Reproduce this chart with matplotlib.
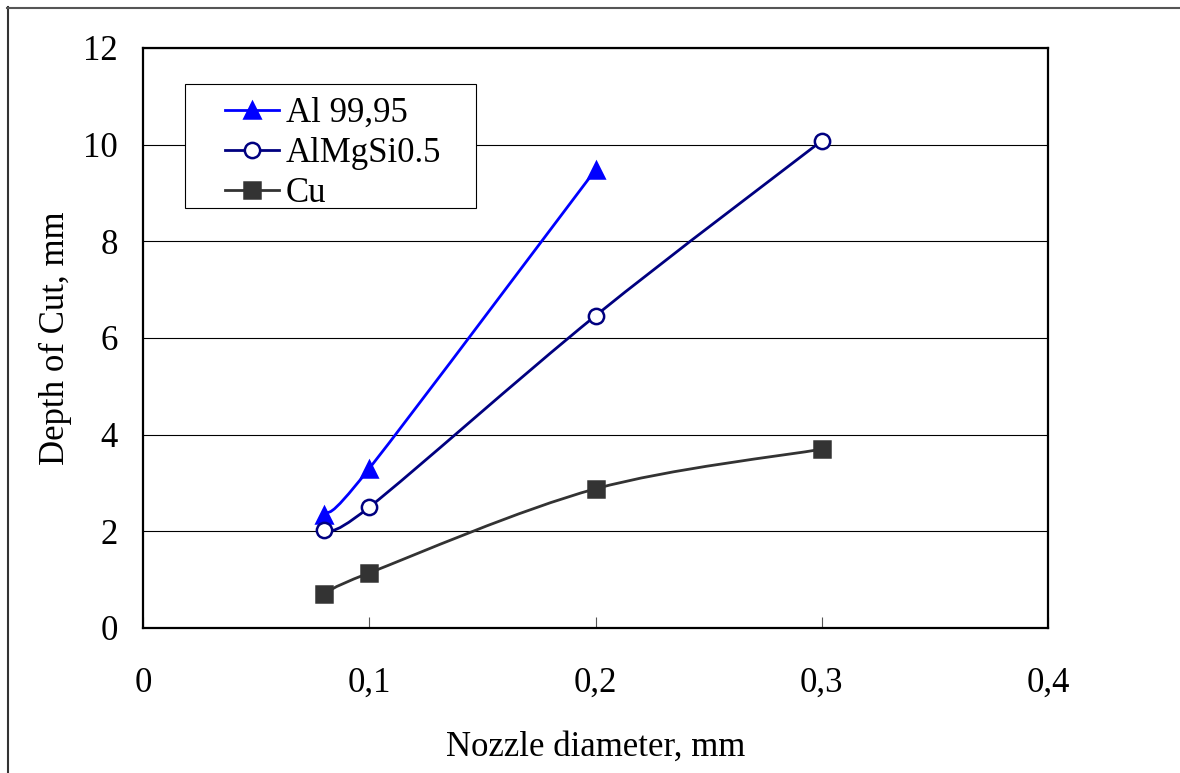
import matplotlib
matplotlib.use("Agg")
import matplotlib.pyplot as plt
from matplotlib.lines import Line2D
from matplotlib.path import Path
from matplotlib.patches import PathPatch, Rectangle

plt.rcParams["font.family"] = ["Liberation Serif", "DejaVu Serif"]

# data
x_al = [0.08, 0.1, 0.2]
y_al = [2.34, 3.30, 9.48]
x_almg = [0.08, 0.1, 0.2, 0.3]
y_almg = [2.03, 2.50, 6.46, 10.08]
x_cu = [0.08, 0.1, 0.2, 0.3]
y_cu = [0.70, 1.14, 2.88, 3.70]

x_ticks = [0, 0.1, 0.2, 0.3, 0.4]
x_ticklabels = ["0", "0,1", "0,2", "0,3", "0,4"]
y_ticks = [0, 2, 4, 6, 8, 10, 12]


def smooth_path(xs, ys):
    # Excel-like smoothed line: Catmull-Rom through the points as cubic Beziers
    pts = list(zip(xs, ys))
    verts = [pts[0]]
    codes = [Path.MOVETO]
    n = len(pts)
    for i in range(n - 1):
        p0 = pts[max(i - 1, 0)]
        p1 = pts[i]
        p2 = pts[i + 1]
        p3 = pts[min(i + 2, n - 1)]
        c1 = (p1[0] + (p2[0] - p0[0]) / 6, p1[1] + (p2[1] - p0[1]) / 6)
        c2 = (p2[0] - (p3[0] - p1[0]) / 6, p2[1] - (p3[1] - p1[1]) / 6)
        verts += [c1, c2, p2]
        codes += [Path.CURVE4] * 3
    return Path(verts, codes)


fig = plt.figure(figsize=(11.8, 7.73), dpi=100)
ax = fig.add_axes([143 / 1180, 1 - 628 / 773, 905 / 1180, 580 / 773])

LW = 2.0
series = [
    (x_al, y_al, "#0000FF", "^", 12, "#0000FF", "Al 99,95"),
    (x_almg, y_almg, "#000080", "o", 11, "white", "AlMgSi0.5"),
    (x_cu, y_cu, "#333333", "s", 11, "#333333", "Cu"),
]
handles = []
for xs, ys, col, mk, ms, mfc, lab in series:
    ax.add_patch(PathPatch(smooth_path(xs, ys), facecolor="none", edgecolor=col,
                           lw=LW, zorder=3))
    ax.plot(xs, ys, linestyle="none", marker=mk, markersize=ms, markerfacecolor=mfc,
            markeredgecolor=col, markeredgewidth=1.8, zorder=4)
    handles.append(Line2D([], [], color=col, lw=LW, marker=mk, markersize=ms,
                          markerfacecolor=mfc, markeredgecolor=col, markeredgewidth=1.8))

ax.set_xlim(0, 0.4)
ax.set_ylim(0, 12)
ax.set_xticks(x_ticks)
ax.set_xticklabels(x_ticklabels)
ax.set_yticks(y_ticks)
ax.yaxis.grid(True, color="black", lw=0.8)
ax.set_axisbelow(True)
ax.tick_params(axis="x", direction="in", length=8, width=0.8, color="#555555",
               pad=28, labelsize=25)
ax.tick_params(axis="y", length=0, pad=18, labelsize=25)
for sp in ax.spines.values():
    sp.set_linewidth(1.6)
    sp.set_color("black")

ax.set_xlabel("Nozzle diameter, mm", fontsize=25, labelpad=22)
ax.set_ylabel("Depth of Cut, mm", fontsize=25, labelpad=8)

# legend frame drawn separately so it can be wider than the entries
ax.add_patch(Rectangle((42 / 905, 420 / 580), 291 / 905, 124 / 580,
                       transform=ax.transAxes, facecolor="white", edgecolor="black",
                       lw=0.8, zorder=5, clip_on=False))
leg = ax.legend(handles, [s[-1] for s in series], loc="upper left",
                bbox_to_anchor=(82 / 905, 531 / 580), fontsize=25, frameon=False,
                borderpad=0, labelspacing=0.2, handlelength=1.55,
                handletextpad=0.2, borderaxespad=0)
leg.set_zorder(6)

# outer chart border (only top and left edges are inside the picture)
fig.add_artist(Line2D([7.5 / 1180, 7.5 / 1180], [0, 1 - 7 / 773],
                      transform=fig.transFigure, color="#333333", lw=1.5))
fig.add_artist(Line2D([7 / 1180, 1], [1 - 7.5 / 773, 1 - 7.5 / 773],
                      transform=fig.transFigure, color="#555555", lw=1.5))

fig.savefig("out.png", dpi=100)
